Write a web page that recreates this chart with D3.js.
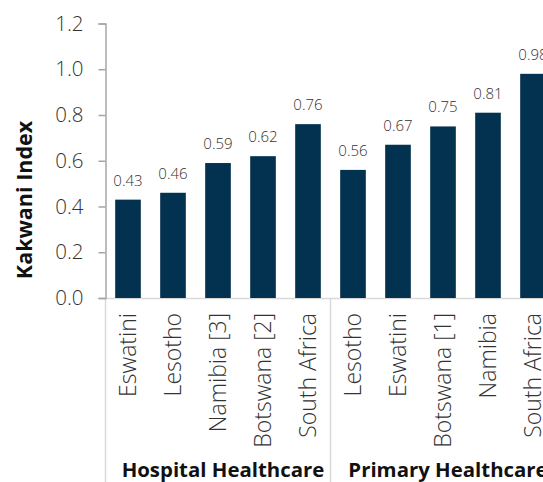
<!DOCTYPE html>
<html><head><meta charset="utf-8">
<script src="https://cdn.jsdelivr.net/npm/d3@7/dist/d3.min.js"></script>
<style>
body{margin:0;background:#fff;}
svg{display:block;font-family:"Open Sans",sans-serif;}
</style></head>
<body><svg id="c" width="543" height="482"></svg>
<script>
const groups = ["Hospital Healthcare", "Primary Healthcare"];
const categories = ["Eswatini","Lesotho","Namibia [3]","Botswana [2]","South Africa","Lesotho","Eswatini","Botswana [1]","Namibia","South Africa"];
const groupOf = [0,0,0,0,0,1,1,1,1,1];
const values = [0.43,0.46,0.59,0.62,0.76,0.56,0.67,0.75,0.81,0.98];
const yTicks = [0,0.2,0.4,0.6,0.8,1.0,1.2];
const yTitle = "Kakwani Index";

const svg = d3.select("#c");
const x = d3.scaleBand().domain(d3.range(categories.length)).range([105.5,555.5]).paddingInner(0.43).paddingOuter(0.215);
const y = d3.scaleLinear().domain([0,1.2]).range([298,23.5]);

// bottom baseline (light)
svg.append("line").attr("x1",106).attr("x2",543).attr("y1",298.5).attr("y2",298.5).attr("stroke","#d9d9d9").attr("stroke-width",1.5);
// group separators
const seps = [0,5].map(i=>x.step()*i + 105.5);
svg.selectAll(".sep").data(seps).join("line").attr("x1",d=>d).attr("x2",d=>d).attr("y1",298).attr("y2",482).attr("stroke","#d9d9d9").attr("stroke-width",1.5);

// y axis
const ya = svg.append("g").attr("transform","translate(105.5,0)").call(d3.axisLeft(y).tickValues(yTicks).tickFormat(d3.format(".1f")).tickSize(7).tickPadding(15));
ya.select(".domain").attr("stroke","#a6a6a6").attr("stroke-width",1.5);
ya.selectAll(".tick line").attr("stroke","#a6a6a6").attr("stroke-width",1.5);
ya.selectAll(".tick text").attr("font-size",20.5).attr("font-weight",300).attr("fill","#333").attr("font-family","'Open Sans',sans-serif");

// bars
svg.selectAll(".bar").data(values).join("rect")
  .attr("x",(d,i)=>x(i)).attr("width",x.bandwidth())
  .attr("y",d=>y(d)).attr("height",d=>y(0)-y(d)).attr("fill","#033150");

// value labels
svg.selectAll(".vl").data(values).join("text")
  .attr("x",(d,i)=>x(i)+x.bandwidth()/2).attr("y",d=>y(d)-14)
  .attr("text-anchor","middle").attr("font-size",15).attr("font-weight",300).attr("fill","#333")
  .text(d=>d.toFixed(2));

// category labels
svg.selectAll(".cl").data(categories).join("text")
  .attr("transform",(d,i)=>`translate(${x(i)+x.bandwidth()/2+7.5},313) rotate(-90)`)
  .attr("text-anchor","end").attr("font-size",23).attr("font-weight",300).attr("fill","#333")
  .text(d=>d);

// group labels
svg.selectAll(".gl").data(groups).join("text")
  .attr("x",(d,gi)=>{const idx=d3.range(categories.length).filter(i=>groupOf[i]===gi);return (x(idx[0])+x(idx[idx.length-1])+x.bandwidth())/2+5;})
  .attr("y",477).attr("text-anchor","middle").attr("font-size",20.4).attr("font-weight",700).attr("fill","#111")
  .text(d=>d);

// y title
svg.append("text").attr("transform","translate(32,200) rotate(-90)").attr("text-anchor","middle")
  .attr("font-size",21.5).attr("font-weight",700).attr("fill","#111").text(yTitle);
</script></body></html>
